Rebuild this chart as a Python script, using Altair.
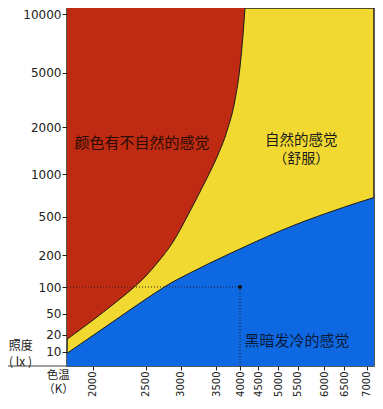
import altair as alt
import pandas as pd

# ---- data ----
x_ticks = [2000, 2500, 3000, 3500, 4000, 4500, 5000, 5500, 6000, 6500, 7000]
y_ticks = [10, 20, 50, 100, 200, 500, 1000, 2000, 5000, 10000]

# upper boundary (unnatural colours / comfortable)
upper_k = [1758, 2022, 2239, 2371, 2493, 2676, 2890, 3118, 3344, 3521, 3729, 3896,
           4000, 4082, 4150]
upper_lx = [17.3, 43.1, 74.7, 96.3, 131.3, 178.1, 301.8, 543.3, 906.3, 1364, 1920.6,
            3500, 5486, 8211, 11107]

# lower boundary (comfortable / dark and cold)
lower_k = [1758, 2022, 2258, 2446, 2633, 2847, 3132, 3415, 3792, 4410, 5044, 5637,
           6143, 6739, 7319]
lower_lx = [9.06, 21.0, 45.6, 70.0, 88.8, 110.9, 143.8, 175, 211.7, 301.8, 388,
            466.3, 555, 654.6, 748.3]

ref_k = [4000]
ref_lx = [100]

K_MIN, K_MAX = 1758, 7163
LX_MIN, LX_MAX = 1.6, 10511

RED = "#be2b12"
YELLOW = "#f1d932"
BLUE = "#0e68e2"
INK = "#1a1a1a"
CJK = "Noto Sans CJK SC"

upper = pd.DataFrame({"k": upper_k, "lx": upper_lx})
upper["top"] = LX_MAX
lower = pd.DataFrame({"k": lower_k, "lx": lower_lx})
lower["bottom"] = LX_MIN
ref = pd.DataFrame({"k": ref_k, "lx": ref_lx})
ref["k0"] = K_MIN
ref["lx0"] = LX_MIN

# hand-drawn (non-uniform) axes of the original -> piecewise scales
xs = alt.Scale(domain=[K_MIN] + x_ticks + [K_MAX],
               range=[0, 25.7, 78.7, 113.7, 149, 173, 191.3, 211.3, 230.7,
                      257.3, 277.3, 299.7, 307],
               nice=False)
ys = alt.Scale(domain=[LX_MIN] + y_ticks + [LX_MAX],
               range=[358, 343.7, 326.7, 305.7, 279, 247, 208.7, 166, 119.3,
                      64.7, 6, 0],
               nice=False)

x_axis = alt.Axis(values=x_ticks, tickCount=40, format="d", labelAngle=270,
                  labelAlign="right", labelBaseline="middle", labelFont="DejaVu Sans",
                  labelFontSize=10, labelColor="#222", tickColor="#222", tickSize=4,
                  labelPadding=1, domain=False, grid=False, title=None,
                  labelOverlap=False, labelFlush=False)
y_axis = alt.Axis(values=y_ticks, tickCount=40, format="d", labelFont="DejaVu Sans",
                  labelFontSize=12, labelColor="#222", tickColor="#222",
                  tickSize=5, labelPadding=1, domain=False, grid=False,
                  title=None, labelOverlap=False, labelFlush=False)

red_area = alt.Chart(upper).mark_area(color=RED, interpolate="monotone", clip=True).encode(
    x=alt.X("k:Q", scale=xs, axis=x_axis),
    y=alt.Y("lx:Q", scale=ys, axis=y_axis),
    y2=alt.Y2("top:Q"),
)
blue_area = alt.Chart(lower).mark_area(color=BLUE, interpolate="monotone", clip=True).encode(
    x=alt.X("k:Q", scale=xs),
    y=alt.Y("lx:Q", scale=ys),
    y2=alt.Y2("bottom:Q"),
)
upper_line = alt.Chart(upper).mark_line(color=INK, strokeWidth=1, interpolate="monotone",
                                        clip=True).encode(
    x=alt.X("k:Q", scale=xs), y=alt.Y("lx:Q", scale=ys))
lower_line = alt.Chart(lower).mark_line(color=INK, strokeWidth=1, interpolate="monotone",
                                        clip=True).encode(
    x=alt.X("k:Q", scale=xs), y=alt.Y("lx:Q", scale=ys))

h_rule = alt.Chart(ref).mark_rule(color="#222", strokeDash=[1, 2], strokeWidth=1).encode(
    x=alt.X("k0:Q", scale=xs), x2=alt.X2("k:Q"), y=alt.Y("lx:Q", scale=ys))
v_rule = alt.Chart(ref).mark_rule(color="#222", strokeDash=[1, 2], strokeWidth=1).encode(
    x=alt.X("k:Q", scale=xs), y=alt.Y("lx:Q", scale=ys), y2=alt.Y2("lx0:Q"))
dot = alt.Chart(ref).mark_circle(color="#111", size=18, opacity=1).encode(
    x=alt.X("k:Q", scale=xs), y=alt.Y("lx:Q", scale=ys))


def label(txt, x, y, size=15, color=INK):
    return alt.Chart(pd.DataFrame({"t": [txt]})).mark_text(
        font=CJK, fontSize=size, color=color, align="center", baseline="middle"
    ).encode(text="t:N", x=alt.value(x), y=alt.value(y))


texts = [
    label("颜色有不自然的感觉", 74.9, 134.5, color="#2a0c04"),
    label("自然的感觉", 234.3, 132.5, size=14.5),
    label("（舒服）", 234.3, 150.5, size=14),
    label("黑暗发冷的感觉", 230, 332.8, color="#0a1a3a"),
    label("照度", -46.2, 337.5, size=12, color="#222"),
    label("( lx )", -46.5, 353.5, size=12, color="#222"),
    label("色温", -8.7, 367.5, size=11.5, color="#222"),
    label("（K）", -8.5, 382, size=11.5, color="#222"),
]

frame_ext = alt.Chart(ref).mark_rule(color="#444", strokeWidth=1.2).encode(
    x=alt.value(-59), x2=alt.value(0), y=alt.value(358))

chart = alt.layer(
    red_area, blue_area, upper_line, lower_line, h_rule, v_rule, dot, frame_ext, *texts
).properties(
    width=307, height=358,
    autosize=alt.AutoSizeParams(type="none"),
    padding={"left": 59, "top": 0, "right": 1, "bottom": 31},
    background="white",
).configure_view(
    fill=YELLOW, stroke="#222", strokeWidth=1.5
)

chart.save("out.html", embed_options={"renderer": "svg", "actions": False})
